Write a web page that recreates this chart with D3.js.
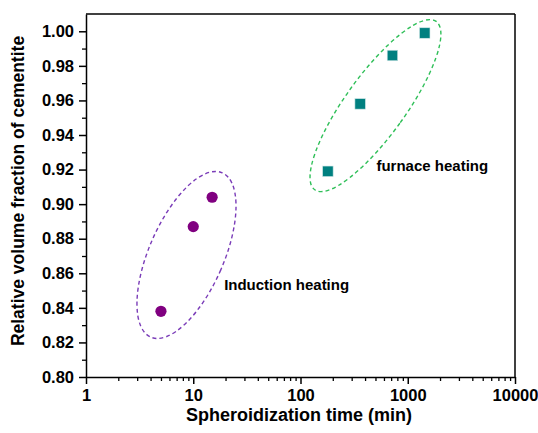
<!DOCTYPE html>
<html>
<head>
<meta charset="utf-8">
<script src="https://cdn.jsdelivr.net/npm/d3@7"></script>
<style>
  body { margin: 0; background: #fff; }
  text { font-family: "Liberation Sans", Arial, sans-serif; font-weight: bold; fill: #000; }
</style>
</head>
<body>
<div id="chart"></div>
<script>
(() => {
// induction heating (circles)
const inductionTime = [5, 10, 15];
const inductionFrac = [0.838, 0.887, 0.904];

// furnace heating (squares)
const furnaceTime = [180, 360, 720, 1440];
const furnaceFrac = [0.919, 0.958, 0.986, 0.999];

const xTicks = [1, 10, 100, 1000, 10000];
const yTicks = [0.80, 0.82, 0.84, 0.86, 0.88, 0.90, 0.92, 0.94, 0.96, 0.98, 1.00];

// group outlines: centre in data units
const groupNames = ["Induction heating", "furnace heating"];
const groupCx = [8.65, 500];
const groupCy = [0.8706, 0.957];

const width = 538;
const height = 433;
const margin = { top: 14, right: 23, bottom: 56, left: 86 };
const innerWidth = width - margin.left - margin.right;
const innerHeight = height - margin.top - margin.bottom;

const svg = d3.select("#chart")
  .append("svg")
  .attr("width", width)
  .attr("height", height);

const g = svg.append("g")
  .attr("transform", `translate(${margin.left},${margin.top})`);

const x = d3.scaleLog()
  .domain([1, 10000])
  .range([0, innerWidth]);

const y = d3.scaleLinear()
  .domain([0.80, 1.01])
  .range([innerHeight, 0]);

// minor ticks
const xMinor = [];
for (let d = 1; d < 10000; d *= 10) {
  for (let k = 2; k <= 9; k++) xMinor.push(d * k);
}
const yMinor = d3.range(0.81, 1.005, 0.02);

g.append("g")
  .attr("transform", `translate(0,${innerHeight})`)
  .call(d3.axisBottom(x).tickValues(xMinor).tickSize(4).tickFormat(""))
  .call(a => a.select(".domain").remove())
  .selectAll("line").attr("stroke-width", 1.3);

g.append("g")
  .call(d3.axisLeft(y).tickValues(yMinor).tickSize(4).tickFormat(""))
  .call(a => a.select(".domain").remove())
  .selectAll("line").attr("stroke-width", 1.3);

// major axes
const xAxis = g.append("g")
  .attr("transform", `translate(0,${innerHeight})`)
  .call(d3.axisBottom(x).tickValues(xTicks).tickSize(7).tickPadding(5).tickSizeOuter(0).tickFormat(d3.format("d")));
xAxis.selectAll("text").style("font-size", "16.5px");

const yAxis = g.append("g")
  .call(d3.axisLeft(y).tickValues(yTicks).tickSize(7).tickPadding(5).tickSizeOuter(0).tickFormat(d3.format(".2f")));
yAxis.selectAll("text").style("font-size", "16.5px");

[xAxis, yAxis].forEach(a => {
  a.select(".domain").attr("stroke-width", 1.5);
  a.selectAll(".tick line").attr("stroke-width", 1.5);
});

// frame top/right
g.append("line")
  .attr("x1", 0).attr("x2", innerWidth)
  .attr("y1", 0).attr("y2", 0)
  .attr("stroke", "#000").attr("stroke-width", 1.5);
g.append("line")
  .attr("x1", innerWidth).attr("x2", innerWidth)
  .attr("y1", 0).attr("y2", innerHeight)
  .attr("stroke", "#000").attr("stroke-width", 1.5);

// axis titles
svg.append("text")
  .attr("x", 299)
  .attr("y", 421)
  .attr("text-anchor", "middle")
  .style("font-size", "18px")
  .text("Spheroidization time (min)");

svg.append("text")
  .attr("transform", "rotate(-90)")
  .attr("x", -191)
  .attr("y", 24)
  .attr("text-anchor", "middle")
  .style("font-size", "17.5px")
  .text("Relative volume fraction of cementite");

// dashed outlines around each group
const outlineColor = ["#7a3cb8", "#2fbf58"];
const outlineRx = [37.4, 30.1];
const outlineRy = [89.6, 103.8];
const outlineRot = [23.5, 35.8];

groupNames.forEach((name, i) => {
  g.append("ellipse")
    .attr("transform", `translate(${x(groupCx[i])},${y(groupCy[i])}) rotate(${outlineRot[i]})`)
    .attr("rx", outlineRx[i])
    .attr("ry", outlineRy[i])
    .attr("fill", "none")
    .attr("stroke", outlineColor[i])
    .attr("stroke-width", 1.4)
    .attr("stroke-dasharray", "4,3");
});

// points
g.selectAll("circle.ind")
  .data(inductionTime.map((t, i) => ({ t, v: inductionFrac[i] })))
  .enter()
  .append("circle")
  .attr("class", "ind")
  .attr("cx", d => x(d.t))
  .attr("cy", d => y(d.v))
  .attr("r", 5.6)
  .attr("fill", "#800080");

const sq = 10.5;
g.selectAll("rect.fur")
  .data(furnaceTime.map((t, i) => ({ t, v: furnaceFrac[i] })))
  .enter()
  .append("rect")
  .attr("class", "fur")
  .attr("x", d => x(d.t) - sq / 2)
  .attr("y", d => y(d.v) - sq / 2)
  .attr("width", sq)
  .attr("height", sq)
  .attr("fill", "#008080")
  .attr("stroke", "#cfe6e6")
  .attr("stroke-width", 0.6);

// labels
g.append("text")
  .attr("x", x(15) + 12)
  .attr("y", y(0.8505))
  .style("font-size", "15px")
  .text("Induction heating");

g.append("text")
  .attr("x", x(720) - 16)
  .attr("y", y(0.919))
  .style("font-size", "15px")
  .text("furnace heating");
})();
</script>
</body>
</html>
